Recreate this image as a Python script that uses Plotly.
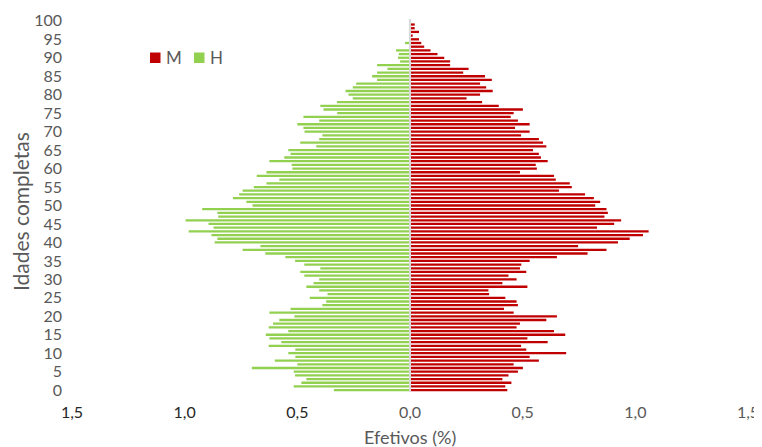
import plotly.graph_objects as go

# Ages 0..100 (bottom to top)
ages = list(range(0, 101))

# Values read top-down (age 99 down to 0); age 100 has no visible bar
m_top_down = [
    0.021, 0.021, 0.040, 0.012, 0.040, 0.050, 0.063, 0.091, 0.122, 0.152,
    0.178, 0.178, 0.260, 0.236, 0.333, 0.363, 0.311, 0.338, 0.367, 0.311,
    0.251, 0.320, 0.394, 0.501,
    0.460, 0.447, 0.479, 0.531, 0.466, 0.531, 0.493, 0.572, 0.590, 0.605,
    0.546, 0.572, 0.581, 0.611, 0.558, 0.563, 0.488, 0.639, 0.647, 0.709,
    0.718, 0.661, 0.777, 0.816,
    0.844, 0.822, 0.872, 0.878, 0.863, 0.937, 0.906, 0.830, 1.059, 1.034,
    0.975, 0.923, 0.746, 0.872, 0.788, 0.652, 0.531, 0.494, 0.488, 0.516,
    0.437, 0.473, 0.410, 0.521, 0.348, 0.351,
    0.423, 0.473, 0.479, 0.417, 0.460, 0.652, 0.605, 0.488, 0.473, 0.639,
    0.689, 0.521, 0.611, 0.493, 0.516, 0.693, 0.531, 0.572, 0.460, 0.501,
    0.479, 0.437, 0.410, 0.450, 0.423, 0.432,
]
h_top_down = [
    0.0, 0.0, 0.0, 0.0, 0.0, 0.022, 0.0, 0.062, 0.050, 0.053,
    0.044, 0.146, 0.100, 0.146, 0.168, 0.146, 0.239, 0.254, 0.286, 0.273,
    0.254, 0.324, 0.398, 0.384,
    0.323, 0.473, 0.403, 0.500, 0.473, 0.468, 0.389, 0.403, 0.487, 0.416,
    0.540, 0.530, 0.558, 0.624, 0.525, 0.522, 0.637, 0.680, 0.580, 0.637,
    0.693, 0.743, 0.758, 0.786,
    0.726, 0.699, 0.922, 0.855, 0.851, 0.996, 0.894, 0.872, 0.982, 0.881,
    0.855, 0.867, 0.664, 0.743, 0.642, 0.553, 0.510, 0.469, 0.398, 0.487,
    0.469, 0.403, 0.428, 0.460, 0.403,
    0.366, 0.445, 0.372, 0.389, 0.530, 0.624, 0.513, 0.580, 0.608, 0.627,
    0.540, 0.640, 0.624, 0.571, 0.627, 0.509, 0.540, 0.509, 0.600, 0.500,
    0.702, 0.516, 0.510, 0.460, 0.482, 0.516, 0.338,
]

m_values = list(reversed(m_top_down)) + [0.0]   # ages 0..100
h_values = list(reversed(h_top_down)) + [0.0]

x_tickvals = [-1.5, -1.0, -0.5, 0.0, 0.5, 1.0, 1.5]
x_ticklabels = ["1,5", "1,0", "0,5", "0,0", "0,5", "1,0", "1,5"]
y_tickvals = list(range(0, 101, 5))

series_names = ["M", "H"]
RED = "#C00000"
GREEN = "#92D050"
GRAY = "#595959"
DARK = "#262626"
FONT = "Lato"

x_ticktext = [
    (f'<span style="color:{DARK}">{t}</span>' if v < 0 else t)
    for v, t in zip(x_tickvals, x_ticklabels)
]

fig = go.Figure()
fig.add_trace(go.Bar(y=ages, x=m_values, orientation="h", name=series_names[0],
                     marker=dict(color=RED, line=dict(width=0)), showlegend=False))
fig.add_trace(go.Bar(y=ages, x=[-v for v in h_values], orientation="h",
                     name=series_names[1],
                     marker=dict(color=GREEN, line=dict(width=0)), showlegend=False))

# Target plot area on screen: x 72..748 px, y 19..392 px
# (page body adds an 8 px offset, so figure margins are reduced by 8)
def px_x(p):
    return (p - 72) / 676.0

def px_y(p):
    return (392 - p) / 373.0

legend_shapes = [
    dict(type="rect", xref="paper", yref="paper",
         x0=px_x(150), x1=px_x(160.5), y0=px_y(63), y1=px_y(52.5),
         fillcolor=RED, line=dict(width=0)),
    dict(type="rect", xref="paper", yref="paper",
         x0=px_x(194), x1=px_x(204.5), y0=px_y(63), y1=px_y(52.5),
         fillcolor=GREEN, line=dict(width=0)),
]
legend_texts = [
    dict(text=series_names[0], xref="paper", yref="paper", x=px_x(164), y=px_y(57.5),
         xanchor="left", yanchor="middle", showarrow=False,
         font=dict(size=17, color=GRAY, family=FONT)),
    dict(text=series_names[1], xref="paper", yref="paper", x=px_x(208), y=px_y(57.5),
         xanchor="left", yanchor="middle", showarrow=False,
         font=dict(size=17, color=GRAY, family=FONT)),
]

fig.update_layout(
    width=754, height=439,
    margin=dict(l=64, r=14, t=11, b=55),
    barmode="overlay",
    bargap=0.38,
    plot_bgcolor="white", paper_bgcolor="white",
    font=dict(family=FONT, color=GRAY, size=15),
    showlegend=False,
    xaxis=dict(range=[-1.5, 1.5], tickvals=x_tickvals, ticktext=x_ticktext,
               showgrid=False, zeroline=False, showline=False, ticks="",
               tickfont=dict(size=16, color=GRAY, family=FONT), fixedrange=True,
               ticklabelstandoff=9, automargin=False, ticklabeloverflow="allow"),
    yaxis=dict(range=[-0.5, 100.5], tickvals=y_tickvals, showgrid=False,
               zeroline=False, showline=False, ticks="",
               tickfont=dict(size=16, color=GRAY, family=FONT),
               ticklabelstandoff=9, automargin=False),
    annotations=[
        dict(text="Idades completas", xref="paper", yref="paper", x=0, y=px_y(212),
             xanchor="center", yanchor="middle", xshift=-52, textangle=-90,
             showarrow=False, font=dict(size=21, color=GRAY, family=FONT)),
        dict(text="Efetivos (%)", xref="paper", yref="paper", x=0.5, y=0,
             xanchor="center", yanchor="middle", yshift=-45,
             showarrow=False, font=dict(size=18, color=GRAY, family=FONT)),
    ] + legend_texts,
    shapes=[dict(type="line", xref="x", yref="paper", x0=0, x1=0, y0=0, y1=1,
                 line=dict(color="#D9D9D9", width=2), layer="above")] + legend_shapes,
)

fig.write_html("out.html")
